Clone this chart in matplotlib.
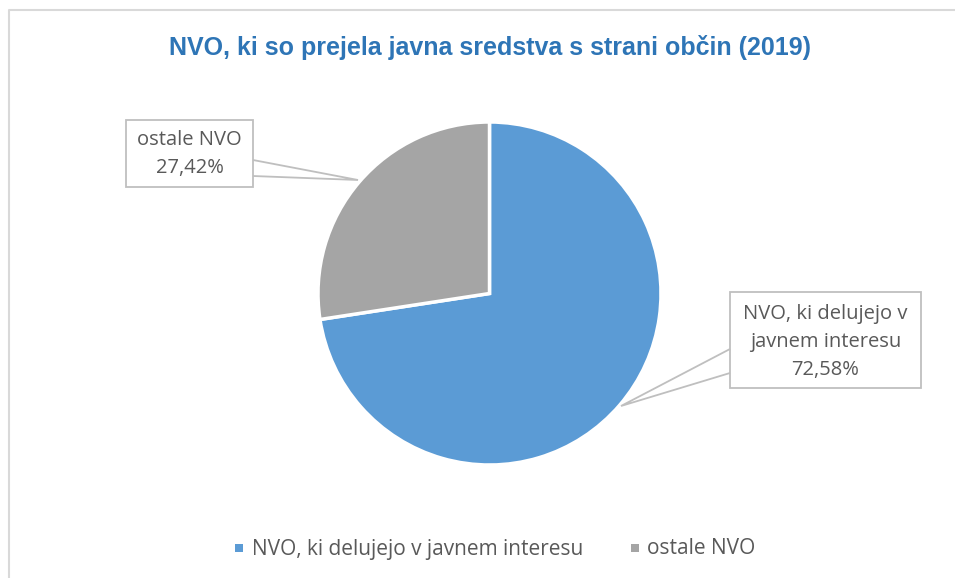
import matplotlib
matplotlib.use("Agg")
import matplotlib.pyplot as plt
from matplotlib.patches import Rectangle, Polygon

categories = ["NVO, ki delujejo v javnem interesu", "ostale NVO"]
values = [72.58, 27.42]
pct_labels = ["72,58%", "27,42%"]
colors = ["#5B9BD5", "#A5A5A5"]
title = "NVO, ki so prejela javna sredstva s strani občin (2019)"

W, H = 955, 578
fig = plt.figure(figsize=(W / 100, H / 100), dpi=100)
ax = fig.add_axes([0, 0, 1, 1])

def py(y):
    return H - y

font = ["Open Sans", "DejaVu Sans"]

wedges, _ = ax.pie(values, colors=colors, startangle=90, counterclock=False,
                   center=(489.5, py(293.5)), radius=171.5,
                   wedgeprops=dict(edgecolor="white", linewidth=2.5), frame=True)
ax.set_xlim(0, W)
ax.set_ylim(0, H)
ax.set_aspect("equal")
ax.axis("off")

# chart border
ax.plot([8.5, 8.5, W + 5], [py(H + 5), py(9.5), py(9.5)], color="#D9D9D9", lw=1.5, solid_capstyle="butt")

ax.text(489.5, py(47), title, ha="center", va="center", fontsize=18, fontweight="bold",
        color="#2E75B6", family=["Liberation Sans Narrow", "Liberation Sans", "DejaVu Sans"])

txt_color = "#595959"
line_color = "#BFBFBF"

# label for ostale NVO
ax.add_patch(Rectangle((126, py(187)), 127, 67, facecolor="white", edgecolor=line_color, lw=1.3, zorder=5))
ax.add_patch(Polygon([(253, py(160)), (358, py(180)), (253, py(176))], closed=False,
                     facecolor="none", edgecolor=line_color, lw=1.3, zorder=5))
ax.text(189.5, py(154), f"{categories[1]}\n{pct_labels[1]}", ha="center", va="center",
        fontsize=14.5, color=txt_color, family=font, linespacing=1.55, zorder=6)

# label for NVO v javnem interesu
ax.add_patch(Rectangle((730, py(388)), 191, 96, facecolor="white", edgecolor=line_color, lw=1.3, zorder=5))
ax.add_patch(Polygon([(730, py(349)), (621, py(406)), (730, py(373))], closed=False,
                     facecolor="none", edgecolor=line_color, lw=1.3, zorder=5))
ax.text(825.5, py(342), "NVO, ki delujejo v\njavnem interesu\n" + pct_labels[0], ha="center", va="center",
        fontsize=14.5, color=txt_color, family=font, linespacing=1.5, zorder=6)

# legend
ax.add_patch(Rectangle((235, py(552)), 8, 8.5, facecolor=colors[0], edgecolor="none"))
ax.text(252, py(549), categories[0], ha="left", va="center", fontsize=15, color=txt_color, family=font)
ax.add_patch(Rectangle((631, py(552)), 8, 8.5, facecolor=colors[1], edgecolor="none"))
ax.text(647, py(549), categories[1], ha="left", va="center", fontsize=15, color=txt_color, family=font)

fig.savefig("out.png", dpi=100)
